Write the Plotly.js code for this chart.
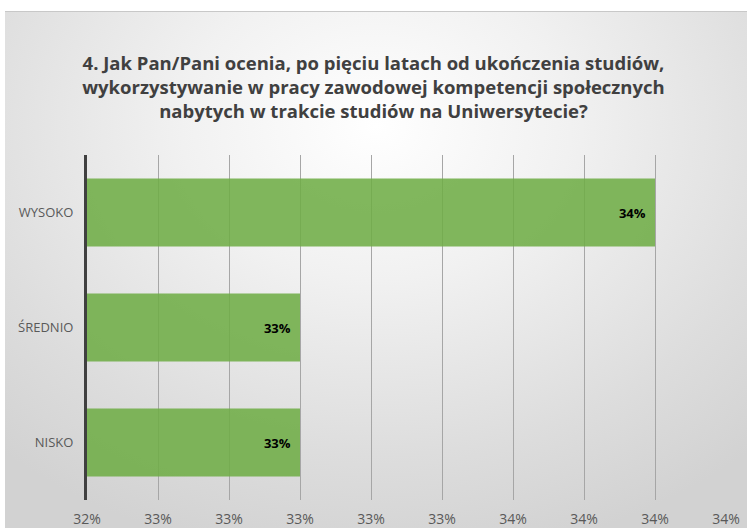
<!DOCTYPE html>
<html>
<head>
<meta charset="utf-8">
<script src="https://cdn.plot.ly/plotly-3.0.1.min.js"></script>
<style>
  html, body { margin: 0; padding: 0; background: #ffffff; }
  #bg {
    position: absolute; left: 5px; top: 11px; width: 742px; height: 517px;
    border-top: 1px solid #c8c8c8;
    background: radial-gradient(ellipse 75% 85% at 50% 22%, #ffffff 0%, #f1f1f1 35%, #dddddd 75%, #d2d2d2 100%);
  }
  #chart { position: absolute; left: 0; top: 0; width: 747px; height: 528px; }
</style>
</head>
<body>
<div id="bg"></div>
<div id="chart"></div>
<script>
const categories = ["WYSOKO", "ŚREDNIO", "NISKO"];
const values = [0.34, 0.33, 0.33];
const titleText = "4. Jak Pan/Pani ocenia, po pięciu latach od ukończenia studiów,<br>wykorzystywanie w pracy zawodowej kompetencji społecznych<br>nabytych w trakcie studiów na Uniwersytecie?";

const trace = {
  type: "bar",
  orientation: "h",
  y: categories,
  x: values,
  marker: { color: "rgba(112,173,71,0.88)", line: { width: 0 } },
  text: values.map(v => Math.round(v * 100) + "%\u2002"),
  textposition: "inside",
  insidetextanchor: "end",
  textfont: { family: "Open Sans, sans-serif", size: 13, color: "#000000", weight: "bold" },
  hoverinfo: "none",
  cliponaxis: false
};

const layout = {
  width: 747,
  height: 528,
  paper_bgcolor: "rgba(0,0,0,0)",
  plot_bgcolor: "rgba(0,0,0,0)",
  margin: { l: 87, r: 21, t: 155, b: 28 },
  bargap: 0.41,
  showlegend: false,
  title: {
    text: titleText,
    x: 0.5,
    xanchor: "center",
    y: 0.867,
    yanchor: "top",
    font: { family: "Open Sans, sans-serif", size: 18.5, color: "#404040", weight: "bold" }
  },
  xaxis: {
    range: [0.324, 0.342],
    tick0: 0.324,
    dtick: 0.002,
    tickformat: ".0%",
    showgrid: true,
    gridcolor: "#a6a6a6",
    gridwidth: 1,
    zeroline: false,
    showline: false,
    ticks: "",
    ticklabelstandoff: 9,
    tickfont: { family: "Open Sans, sans-serif", size: 14, color: "#595959" },
    fixedrange: true
  },
  yaxis: {
    categoryorder: "array",
    categoryarray: categories,
    autorange: "reversed",
    showline: true,
    linecolor: "#404040",
    linewidth: 3,
    showgrid: false,
    zeroline: false,
    ticks: "",
    ticklabelstandoff: 8,
    tickfont: { family: "Open Sans, sans-serif", size: 13, color: "#595959" },
    fixedrange: true
  }
};

Plotly.newPlot("chart", [trace], layout, { displayModeBar: false, staticPlot: true });
</script>
</body>
</html>
